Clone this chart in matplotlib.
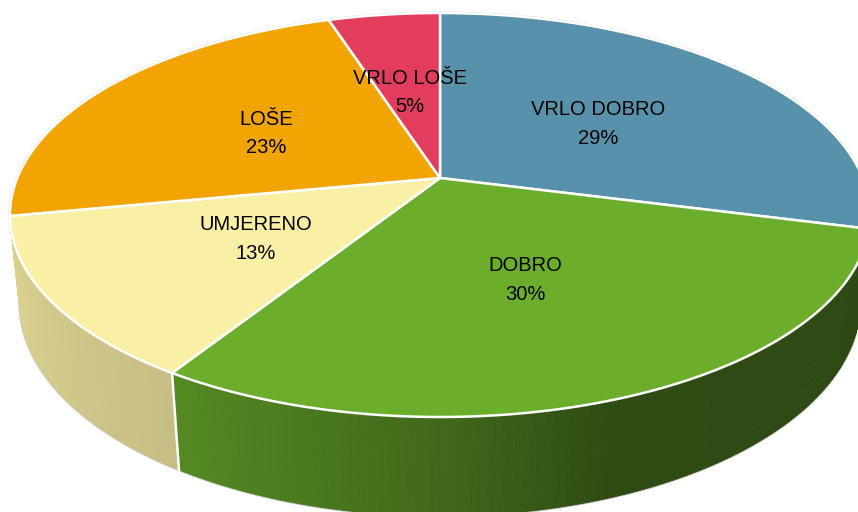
import numpy as np
import matplotlib.pyplot as plt
from matplotlib.patches import Polygon
from matplotlib.colors import to_rgb

# data
labels = ['VRLO DOBRO', 'DOBRO', 'UMJERENO', 'LOŠE', 'VRLO LOŠE']
values = [29, 30, 13, 23, 5]
colors = ['#5892AA', '#6BAE2B', '#FAF0A5', '#F2A500', '#E33D5E']

# perspective camera for the 3d pie (pixel space)
cx, cy = 440, 178
F = 2047.0
D = 4.842
elev = np.radians(27.5)
s, c = np.sin(elev), np.cos(elev)
h = 0.236  # pie thickness

# side wall lighting (angle in degrees -> brightness factor)
shade_phi = [-180, -166, -122, -108, -90, -70, 0]
shade_k = [0.90, 0.88, 0.79, 0.71, 0.60, 0.43, 0.42]


def proj(x, y, z):
    depth = D + c * y - s * z
    u = cx + F * x / depth
    v = cy - F * (s * y + c * z) / depth
    return u, v


def arc(phi1, phi2, z, n=200):
    p = np.radians(np.linspace(phi1, phi2, n))
    u, v = proj(np.cos(p), np.sin(p), z)
    return np.column_stack([u, v])


fig = plt.figure(figsize=(8.58, 5.12), dpi=100)
ax = fig.add_axes([0, 0, 1, 1])
ax.set_xlim(0, 858)
ax.set_ylim(512, 0)
ax.axis('off')

total = float(sum(values))
theta = np.concatenate([[0], np.cumsum(values) / total * 360.0])
phi = 90.0 - theta  # start at 12 o'clock, clockwise

# faint outline
ax.plot(*arc(0, 360, 0, 400).T, color='#CCCCCC', lw=2.0, zorder=0)
ax.plot(*arc(-180, 0, -h, 300).T, color='#CCCCCC', lw=2.0, zorder=0)

# side walls, drawn as thin strips back to front
strips = []
for i in range(len(values)):
    hi, lo = phi[i], phi[i + 1]
    for off in (0, 360, -360):
        a, b = max(lo + off, -180), min(hi + off, 0)
        if a < b:
            edges = np.linspace(a, b, max(2, int((b - a) / 0.5) + 1))
            for p1, p2 in zip(edges[:-1], edges[1:]):
                strips.append((p1, p2, i))
strips.sort(key=lambda t: -np.sin(np.radians((t[0] + t[1]) / 2)))
for p1, p2, i in strips:
    top = arc(p1, p2, 0, 4)
    bot = arc(p2, p1, -h, 4)
    k = np.interp((p1 + p2) / 2, shade_phi, shade_k)
    col = tuple(np.array(to_rgb(colors[i])) * k)
    ax.add_patch(Polygon(np.vstack([top, bot]), closed=True, facecolor=col,
                         edgecolor=col, lw=0.6, zorder=1))

# white seams between walls
for p in phi:
    pp = ((p + 180) % 360) - 180
    if -166 < pp < -14:
        x0, y0 = proj(np.cos(np.radians(pp)), np.sin(np.radians(pp)), 0)
        x1, y1 = proj(np.cos(np.radians(pp)), np.sin(np.radians(pp)), -h)
        ax.plot([x0, x1], [y0, y1], color='white', lw=1.8, zorder=2)

# top face
for i in range(len(values)):
    pts = np.vstack([[cx, cy], arc(phi[i], phi[i + 1], 0)])
    ax.add_patch(Polygon(pts, closed=True, facecolor=colors[i],
                         edgecolor='white', lw=1.8, joinstyle='round', zorder=3))

# labels at half radius along the middle angle
for i in range(len(values)):
    pm = np.radians((phi[i] + phi[i + 1]) / 2)
    u, v = proj(0.5 * np.cos(pm), 0.5 * np.sin(pm), 0)
    ax.text(u, v + 3, f'{labels[i]}\n{values[i]}%', ha='center', va='center',
            fontsize=14.5, family=['Liberation Sans', 'DejaVu Sans'],
            linespacing=1.65, color='black', zorder=4)

fig.savefig('out.png', dpi=100)
